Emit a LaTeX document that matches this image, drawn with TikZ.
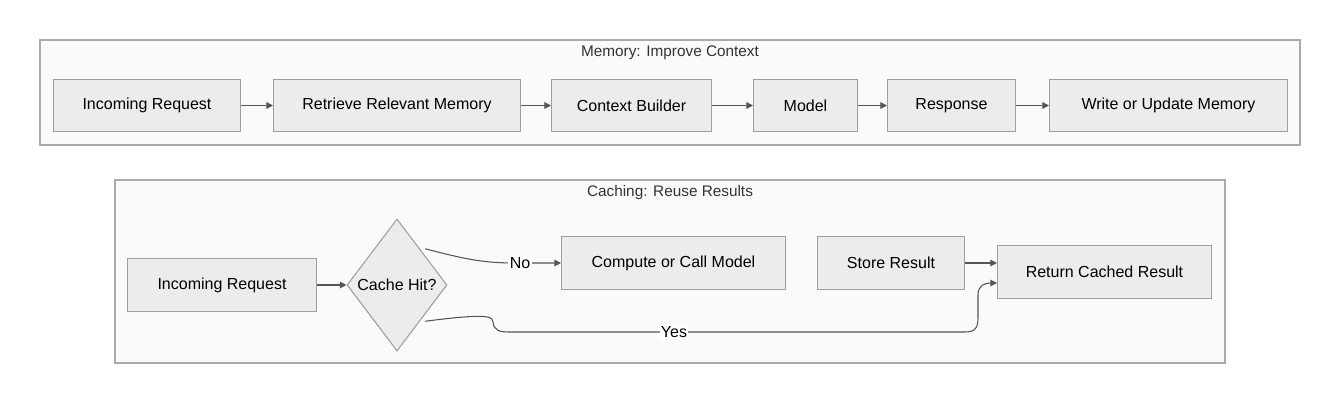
\documentclass[tikz,border=0pt]{standalone}
\usepackage{fontspec}
\setmainfont{Liberation Sans}
\usetikzlibrary{shapes.geometric,arrows.meta}
\definecolor{boxf}{HTML}{ECECEC}
\definecolor{boxd}{HTML}{9E9E9E}
\definecolor{grpf}{HTML}{FAFAFA}
\definecolor{grpd}{HTML}{AAAAAA}
\definecolor{edge}{HTML}{555555}
\begin{document}
\begin{tikzpicture}[x=0.75pt,y=-0.75pt,
  grp/.style={draw=grpd,fill=grpf,line width=0.8pt},
  box/.style={draw=boxd,fill=boxf,line width=0.8pt,font=\fontsize{12}{14}\selectfont},
  ttl/.style={font=\fontsize{11.5}{14}\selectfont,text=black!80},
  arr/.style={draw=edge,line width=0.8pt,-{Triangle[length=5pt,width=5pt]}},
  lbl/.style={fill=white,inner sep=1pt,font=\fontsize{12}{14}\selectfont}]
\useasboundingbox (0,0) rectangle (1340,404);
\fill[white] (0,0) rectangle (1340,404);
% top group
\draw[grp] (40,40) rectangle (1300,145);
\node[ttl] (t1) at (670,53) {Memory: Improve Context};
\newcommand{\bx}[6]{\node[box,minimum width=#3*0.75pt-0.8pt,minimum height=#4*0.75pt-0.8pt] (#1) at (#2) {#6};}
\bx{a}{147,105.5}{188}{53}{}{Incoming Request}
\bx{b}{397,105.5}{248}{53}{}{Retrieve Relevant Memory}
\bx{c}{631.5,105.5}{161}{53}{}{Context Builder}
\bx{d}{805.5,105.5}{105}{53}{}{Model}
\bx{e}{951.5,105.5}{129}{53}{}{Response}
\bx{f}{1168.5,105.5}{239}{53}{}{Write or Update Memory}
\draw[arr] (a) -- (b);
\draw[arr] (b) -- (c);
\draw[arr] (c) -- (d);
\draw[arr] (d) -- (e);
\draw[arr] (e) -- (f);
% bottom group
\draw[grp] (115,180) rectangle (1225,363);
\node[ttl] (t2) at (670,193) {Caching: Reuse Results};
\bx{g}{222,285}{190}{54}{}{Incoming Request}
\node[box,diamond,minimum width=100*0.75pt,minimum height=132*0.75pt,inner sep=0pt] (h) at (397,285) {Cache Hit?};
\bx{i}{673.5,263}{225}{54}{}{Compute or Call Model}
\bx{j}{891,263}{148}{54}{}{Store Result}
\bx{k}{1104.5,272}{215}{54}{}{Return Cached Result}
\draw[arr] (g) -- (h);
\draw[arr] (h.north east) ++(3,-3) coordinate (h1)
  (h1) .. controls (475,262) and (490,263) .. (520,263) node[lbl] {No} -- (i.west);
\draw[arr] (j.east) -- (997,263);
\draw[arr] (h.south east) ++(3,3) coordinate (h2)
  (h2) .. controls (495,312) and (492,318) .. (493,322) .. controls (494,331) and (500,332) .. (510,332)
  -- (674,332) node[lbl] {Yes} -- (965,332) .. controls (975,332) and (978,328) .. (978,318)
  -- (978,295) .. controls (978,285) and (985,283) .. (997,283);
\end{tikzpicture}
\end{document}
